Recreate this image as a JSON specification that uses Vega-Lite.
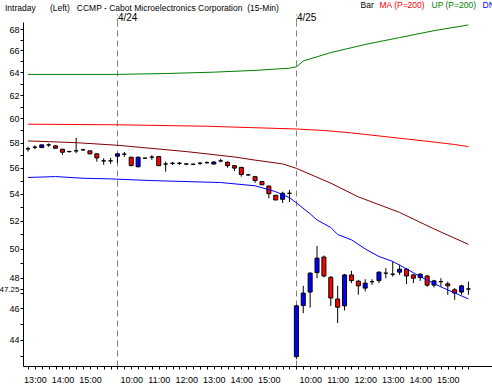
{
  "$schema": "https://vega.github.io/schema/vega-lite/v6.json",
  "width": 469,
  "height": 344,
  "autosize": {"type": "none"},
  "padding": {"left": 23, "top": 22, "right": 0, "bottom": 22},
  "background": "white",
  "config": {
    "view": {"stroke": null},
    "font": "Liberation Sans",
    "axis": {"labelColor": "black", "domainColor": "black", "tickColor": "black", "labelFont": "Liberation Sans", "labelFontSize": 9, "domain": true, "ticks": true}
  },
  "title": {
    "text": "Intraday\u00a0\u00a0\u00a0\u00a0\u00a0\u00a0(Left)\u00a0\u00a0\u00a0CCMP - Cabot Microelectronics Corporation\u00a0\u00a0(15-Min)",
    "anchor": "start",
    "frame": "group",
    "dx": -18,
    "dy": 11,
    "offset": 0,
    "fontSize": 8.5,
    "fontWeight": "normal",
    "font": "Liberation Sans",
    "color": "black"
  },
  "datasets": {
    "bars": [
      {"s":0,"o":57.50,"h":57.68,"l":57.28,"c":57.50},
      {"s":1,"o":57.63,"h":57.79,"l":57.47,"c":57.63},
      {"s":2,"o":57.60,"h":57.85,"l":57.58,"c":57.82},
      {"s":3,"o":57.82,"h":57.94,"l":57.66,"c":57.82},
      {"s":4,"o":57.74,"h":57.78,"l":57.52,"c":57.55},
      {"s":5,"o":57.47,"h":57.50,"l":57.02,"c":57.23},
      {"s":6,"o":57.28,"h":57.35,"l":57.20,"c":57.28},
      {"s":7,"o":57.34,"h":58.40,"l":57.15,"c":57.34},
      {"s":8,"o":57.42,"h":57.50,"l":57.35,"c":57.42},
      {"s":9,"o":57.34,"h":57.36,"l":57.08,"c":57.10},
      {"s":10,"o":57.10,"h":57.12,"l":56.48,"c":56.78},
      {"s":11,"o":56.54,"h":56.75,"l":56.22,"c":56.54},
      {"s":12,"o":56.54,"h":56.78,"l":56.30,"c":56.54},
      {"s":13,"o":56.91,"h":57.15,"l":56.36,"c":57.10},
      {"s":14,"o":57.07,"h":57.25,"l":56.86,"c":57.07},
      {"s":15,"o":56.83,"h":56.85,"l":56.10,"c":56.18},
      {"s":16,"o":56.08,"h":56.88,"l":56.02,"c":56.83},
      {"s":17,"o":56.75,"h":56.80,"l":56.70,"c":56.75},
      {"s":18,"o":56.83,"h":57.00,"l":56.62,"c":56.83},
      {"s":19,"o":56.88,"h":56.90,"l":56.14,"c":56.16},
      {"s":20,"o":56.29,"h":56.48,"l":55.69,"c":56.29},
      {"s":21,"o":56.35,"h":56.45,"l":56.20,"c":56.35},
      {"s":22,"o":56.35,"h":56.45,"l":56.22,"c":56.35},
      {"s":23,"o":56.29,"h":56.36,"l":56.20,"c":56.29},
      {"s":24,"o":56.27,"h":56.33,"l":56.20,"c":56.27},
      {"s":25,"o":56.35,"h":56.45,"l":56.22,"c":56.35},
      {"s":26,"o":56.40,"h":56.50,"l":56.30,"c":56.40},
      {"s":27,"o":56.29,"h":56.50,"l":56.25,"c":56.45},
      {"s":28,"o":56.54,"h":56.70,"l":56.42,"c":56.54},
      {"s":29,"o":56.43,"h":56.50,"l":56.00,"c":56.16},
      {"s":30,"o":56.16,"h":56.18,"l":55.74,"c":55.97},
      {"s":31,"o":56.03,"h":56.05,"l":55.30,"c":55.47},
      {"s":32,"o":55.44,"h":55.50,"l":55.38,"c":55.44},
      {"s":33,"o":55.30,"h":55.32,"l":54.83,"c":55.00},
      {"s":34,"o":54.93,"h":54.95,"l":54.66,"c":54.68},
      {"s":35,"o":54.58,"h":54.60,"l":53.65,"c":54.00},
      {"s":36,"o":53.88,"h":53.90,"l":53.50,"c":53.53},
      {"s":37,"o":53.58,"h":54.15,"l":53.30,"c":54.03},
      {"s":38,"o":54.03,"h":54.28,"l":53.38,"c":54.03},
      {"s":39,"o":42.98,"h":46.22,"l":42.83,"c":46.15},
      {"s":40,"o":46.17,"h":47.46,"l":45.68,"c":46.98},
      {"s":41,"o":47.05,"h":48.38,"l":46.04,"c":48.31},
      {"s":42,"o":48.35,"h":50.19,"l":47.97,"c":49.34},
      {"s":43,"o":49.41,"h":49.52,"l":48.03,"c":48.12},
      {"s":44,"o":48.03,"h":48.12,"l":46.14,"c":46.66},
      {"s":45,"o":46.59,"h":47.46,"l":45.05,"c":46.06},
      {"s":46,"o":46.15,"h":48.26,"l":45.85,"c":48.19},
      {"s":47,"o":48.19,"h":48.47,"l":47.64,"c":47.81},
      {"s":48,"o":47.77,"h":47.86,"l":46.87,"c":47.46},
      {"s":49,"o":47.31,"h":47.90,"l":47.09,"c":47.64},
      {"s":50,"o":47.74,"h":47.90,"l":47.53,"c":47.74},
      {"s":51,"o":47.81,"h":48.42,"l":47.64,"c":48.38},
      {"s":52,"o":48.31,"h":48.65,"l":47.97,"c":48.31},
      {"s":53,"o":48.24,"h":49.11,"l":48.08,"c":48.24},
      {"s":54,"o":48.38,"h":48.88,"l":48.19,"c":48.58},
      {"s":55,"o":48.58,"h":48.65,"l":47.57,"c":48.12},
      {"s":56,"o":48.19,"h":48.24,"l":47.64,"c":47.97},
      {"s":57,"o":48.01,"h":48.31,"l":47.79,"c":48.24},
      {"s":58,"o":48.12,"h":48.19,"l":47.40,"c":47.51},
      {"s":59,"o":47.51,"h":47.86,"l":47.35,"c":47.79},
      {"s":60,"o":47.74,"h":47.97,"l":47.40,"c":47.74},
      {"s":61,"o":47.59,"h":47.74,"l":46.87,"c":47.46},
      {"s":62,"o":47.20,"h":47.31,"l":46.54,"c":46.98},
      {"s":63,"o":47.05,"h":47.53,"l":46.87,"c":47.46},
      {"s":64,"o":47.25,"h":47.74,"l":46.87,"c":47.25}
    ],
    "lines": [
      {"s":0,"k":"UP (P=200)","v":63.82},{"s":13,"k":"UP (P=200)","v":63.82},{"s":20,"k":"UP (P=200)","v":63.9},{"s":27,"k":"UP (P=200)","v":64.02},{"s":33,"k":"UP (P=200)","v":64.18},{"s":38,"k":"UP (P=200)","v":64.38},{"s":39,"k":"UP (P=200)","v":64.5},{"s":40,"k":"UP (P=200)","v":65.03},{"s":44,"k":"UP (P=200)","v":65.8},{"s":49,"k":"UP (P=200)","v":66.55},{"s":54,"k":"UP (P=200)","v":67.2},{"s":59,"k":"UP (P=200)","v":67.85},{"s":64,"k":"UP (P=200)","v":68.4},
      {"s":0,"k":"MA (P=200)","v":59.52},{"s":13,"k":"MA (P=200)","v":59.47},{"s":26,"k":"MA (P=200)","v":59.35},{"s":39,"k":"MA (P=200)","v":59.12},{"s":43,"k":"MA (P=200)","v":59.0},{"s":47,"k":"MA (P=200)","v":58.8},{"s":51,"k":"MA (P=200)","v":58.55},{"s":55,"k":"MA (P=200)","v":58.3},{"s":59,"k":"MA (P=200)","v":58.05},{"s":62,"k":"MA (P=200)","v":57.85},{"s":64,"k":"MA (P=200)","v":57.68},
      {"s":0,"k":"MA (P=50)","v":58.14},{"s":7,"k":"MA (P=50)","v":58.0},{"s":13,"k":"MA (P=50)","v":57.79},{"s":23,"k":"MA (P=50)","v":57.28},{"s":30,"k":"MA (P=50)","v":56.85},{"s":33,"k":"MA (P=50)","v":56.6},{"s":37,"k":"MA (P=50)","v":56.3},{"s":39,"k":"MA (P=50)","v":55.95},{"s":44,"k":"MA (P=50)","v":54.8},{"s":48,"k":"MA (P=50)","v":53.76},{"s":54,"k":"MA (P=50)","v":52.6},{"s":59,"k":"MA (P=50)","v":51.4},{"s":64,"k":"MA (P=50)","v":50.3},
      {"s":0,"k":"DN (P=200)","v":55.24},{"s":4,"k":"DN (P=200)","v":55.31},{"s":8,"k":"DN (P=200)","v":55.18},{"s":12,"k":"DN (P=200)","v":55.13},{"s":18,"k":"DN (P=200)","v":55.0},{"s":28,"k":"DN (P=200)","v":54.85},{"s":33,"k":"DN (P=200)","v":54.6},{"s":36,"k":"DN (P=200)","v":54.15},{"s":38,"k":"DN (P=200)","v":53.7},{"s":39,"k":"DN (P=200)","v":53.31},{"s":41,"k":"DN (P=200)","v":52.5},{"s":42,"k":"DN (P=200)","v":52.05},{"s":44,"k":"DN (P=200)","v":51.5},{"s":45,"k":"DN (P=200)","v":51.0},{"s":47,"k":"DN (P=200)","v":50.62},{"s":49,"k":"DN (P=200)","v":49.98},{"s":51,"k":"DN (P=200)","v":49.45},{"s":53,"k":"DN (P=200)","v":49.11},{"s":55,"k":"DN (P=200)","v":48.6},{"s":57,"k":"DN (P=200)","v":48.08},{"s":60,"k":"DN (P=200)","v":47.39},{"s":64,"k":"DN (P=200)","v":46.6}
    ]
  },
  "resolve": {"axis": {"x": "independent", "y": "independent"}},
  "layer": [
    {
      "data": {"name": "bars"},
      "mark": {"type": "rule", "color": "black", "strokeWidth": 1},
      "encoding": {
        "x": {"field": "s", "type": "quantitative", "scale": {"domain": [0, 66.7], "nice": false, "zero": false},
          "axis": {"orient": "bottom", "title": null, "grid": false, "domain": true, "domainColor": "black", "values": [0,1,2,3,4,5,6,7,8,9,10,11,12,13,14,15,16,17,18,19,20,21,22,23,24,25,26,27,28,29,30,31,32,33,34,35,36,37,38,39,40,41,42,43,44,45,46,47,48,49,50,51,52,53,54,55,56,57,58,59,60,61,62,63,64],
            "tickSize": 3, "labelPadding": 6, "labelOverlap": false, "labelBound": false, "labelFontSize": 9,
            "labelExpr": "((datum.value < 13 ? 765 + 15*datum.value : (datum.value < 39 ? 570 + 15*(datum.value-13) : 570 + 15*(datum.value-39))) % 60 == 0) ? (floor((datum.value < 13 ? 765 + 15*datum.value : (datum.value < 39 ? 570 + 15*(datum.value-13) : 570 + 15*(datum.value-39)))/60) + ':00') : ''"}},
        "y": {"field": "l", "type": "quantitative", "scale": {"type": "log", "domain": [42.42, 68.68], "nice": false, "zero": false},
          "axis": {"orient": "left", "title": null, "grid": false, "domain": true, "domainColor": "black", "values": [43,44,45,46,47,47.25,48,49,50,51,52,53,54,55,56,57,58,59,60,61,62,63,64,65,66,67,68],
            "tickSize": 3,
            "labelPadding": 1, "labelOverlap": false, "labelBound": false,
            "labelFontSize": {"condition": {"test": "datum.value == 47.25", "value": 8}, "value": 9},
            "labelExpr": "datum.value % 2 == 0 ? '' + datum.value : (datum.value == 47.25 ? '47.25' : '')"}},
        "y2": {"field": "h"}
      }
    },
    {
      "data": {"name": "bars"},
      "mark": {"type": "bar", "width": 4, "stroke": "black", "strokeWidth": 1},
      "encoding": {
        "x": {"field": "s", "type": "quantitative", "scale": {"domain": [0, 66.7], "nice": false, "zero": false}, "axis": null},
        "y": {"field": "o", "type": "quantitative", "scale": {"type": "log", "domain": [42.42, 68.68], "nice": false, "zero": false}, "axis": null},
        "y2": {"field": "c"},
        "fill": {"condition": {"test": "datum.c > datum.o", "value": "#0000ff"}, "value": "#ff0000"}
      }
    },
    {
      "data": {"name": "lines"},
      "mark": {"type": "line", "strokeWidth": 1},
      "encoding": {
        "x": {"field": "s", "type": "quantitative", "scale": {"domain": [0, 66.7], "nice": false, "zero": false},
          "axis": {"orient": "top", "title": null, "values": [13, 39], "domain": false, "grid": true, "gridDash": [6, 4], "gridColor": "#808080", "gridWidth": 1,
            "ticks": true, "tickSize": 8, "tickDash": [4, 3], "tickColor": "#808080", "labelPadding": -8, "labelAlign": "left", "labelDx": 3, "labelFontSize": 10,
            "labelExpr": "datum.value == 13 ? '4/24' : '4/25'"}},
        "y": {"field": "v", "type": "quantitative", "scale": {"type": "log", "domain": [42.42, 68.68], "nice": false, "zero": false}, "axis": null},
        "color": {"field": "k", "type": "nominal",
          "scale": {"domain": ["Bar", "MA (P=200)", "UP (P=200)", "DN (P=200)", "MA (P=50)"], "range": ["#000000", "#ff0000", "#008000", "#0000ff", "#800000"]},
          "legend": {"orient": "none", "legendX": 334, "legendY": -21, "direction": "horizontal", "title": null, "padding": 0,
            "symbolSize": 0, "symbolStrokeWidth": 0, "symbolOpacity": 0, "labelOffset": -5, "columnPadding": 2,
            "labelFontSize": 8.5, "labelFont": "Liberation Sans",
            "labelColor": {"expr": "scale('color', datum.value)"}}}
      }
    }
  ]
}
